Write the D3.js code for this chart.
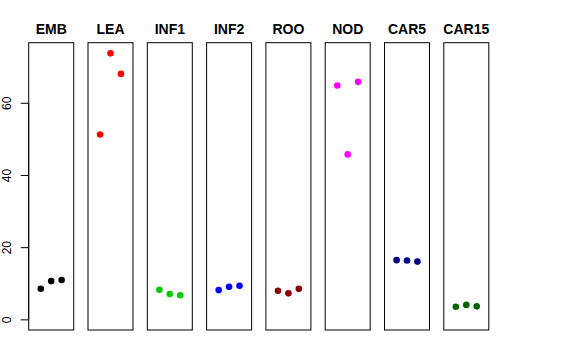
<!DOCTYPE html>
<html>
<head>
<meta charset="utf-8">
<script src="https://cdn.jsdelivr.net/npm/d3@7"></script>
<style>
  body { margin: 0; background: #fff; }
  text { font-family: "Liberation Sans", Arial, sans-serif; }
</style>
</head>
<body>
<svg width="576" height="360"></svg>
<script>
// tissues and their three replicate values
const tissues = ['EMB', 'LEA', 'INF1', 'INF2', 'ROO', 'NOD', 'CAR5', 'CAR15'];
const colors = ['#000000', '#ff0000', '#00cd00', '#0000ff', '#8b0000', '#ff00ff', '#00008b', '#006400'];
const rep1 = [8.5, 51.2, 8.2, 8.1, 7.9, 64.8, 16.4, 3.5];
const rep2 = [10.6, 73.7, 7.0, 9.0, 7.2, 45.7, 16.3, 4.0];
const rep3 = [10.9, 68.0, 6.7, 9.3, 8.5, 65.8, 16.0, 3.6];
const yTicks = [0, 20, 40, 60];

const svg = d3.select('svg');
const plotTop = 42.7, plotBottom = 330;
const firstLeft = 28.7, panelW = 45, pitch = 59.3;

const maxVal = d3.max([...rep1, ...rep2, ...rep3]);
const y = d3.scaleLinear()
    .domain([0 - maxVal * 0.04, maxVal * 1.04])
    .range([plotBottom, plotTop]);

tissues.forEach((name, i) => {
    const left = firstLeft + i * pitch;
    const x = d3.scaleLinear().domain([-0.16, 4.16]).range([left, left + panelW]);
    const g = svg.append('g');

    g.append('rect')
        .attr('x', left).attr('y', plotTop)
        .attr('width', panelW).attr('height', plotBottom - plotTop)
        .attr('fill', 'none').attr('stroke', '#000').attr('stroke-width', 1);

    g.append('text')
        .attr('x', left + panelW / 2).attr('y', 34)
        .attr('text-anchor', 'middle')
        .attr('font-size', 14).attr('font-weight', 'bold')
        .text(name);

    const vals = [rep1[i], rep2[i], rep3[i]];
    g.selectAll('circle')
        .data(vals)
        .enter()
        .append('circle')
        .attr('cx', (_, j) => x(j + 1))
        .attr('cy', (d) => y(d))
        .attr('r', 3.3)
        .attr('fill', colors[i]);

    if (i === 0) {
        const axis = d3.axisLeft(y).tickValues(yTicks).tickSize(8).tickPadding(4);
        const ag = svg.append('g')
            .attr('transform', `translate(${left},0)`)
            .call(axis);
        ag.select('.domain').attr('d', `M0,${y(0)}V${y(60)}`).attr('stroke', '#000');
        ag.selectAll('.tick line').attr('stroke', '#000');
        ag.selectAll('.tick text')
            .attr('font-size', 12)
            .attr('font-family', '"Liberation Sans", Arial, sans-serif')
            .attr('fill', '#000')
            .attr('text-anchor', 'middle')
            .attr('x', null).attr('dy', null)
            .attr('transform', 'translate(-20.5,0) rotate(-90)')
            .attr('dominant-baseline', 'middle');
    }
});
</script>
</body>
</html>
